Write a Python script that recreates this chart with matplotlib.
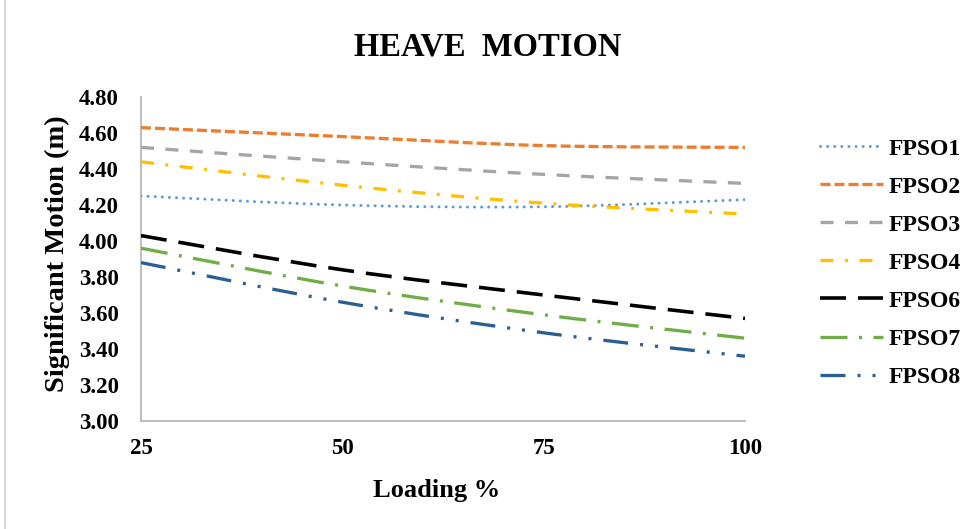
import matplotlib
matplotlib.use("Agg")
import matplotlib.pyplot as plt
from matplotlib.path import Path
from matplotlib.patches import PathPatch
from matplotlib.lines import Line2D
from matplotlib.ticker import FormatStrFormatter

# ---- data -------------------------------------------------------------
loading = [25, 50, 75, 100]
fpso1 = [4.25, 4.20, 4.19, 4.23]
fpso2 = [4.63, 4.58, 4.53, 4.52]
fpso3 = [4.52, 4.44, 4.37, 4.32]
fpso4 = [4.44, 4.31, 4.21, 4.15]
fpso6 = [4.03, 3.84, 3.70, 3.57]
fpso7 = [3.96, 3.75, 3.59, 3.46]
fpso8 = [3.88, 3.66, 3.49, 3.36]
series_names = ["FPSO1", "FPSO2", "FPSO3", "FPSO4", "FPSO6", "FPSO7", "FPSO8"]
series_values = [fpso1, fpso2, fpso3, fpso4, fpso6, fpso7, fpso8]
x_ticks = [25, 50, 75, 100]
y_ticks = [3.00, 3.20, 3.40, 3.60, 3.80, 4.00, 4.20, 4.40, 4.60, 4.80]

# ---- styling ----------------------------------------------------------
DPI = 100
P = 72.0 / DPI  # points per pixel
plt.rcParams["lines.scale_dashes"] = False
plt.rcParams["font.family"] = ["Liberation Serif", "DejaVu Serif"]
plt.rcParams["font.weight"] = "bold"

# (colour, dash pattern in pixels, cap style, width in pixels)
styles = [
    ("#5B9BD5", (0.1, 7.0), "round", 3.0),
    ("#ED7D31", (10.0, 4.0), "butt", 3.3),
    ("#A5A5A5", (13.0, 11.5), "butt", 3.3),
    ("#FFC000", (13.0, 11.5, 3.0, 11.5), "butt", 3.3),
    ("#000000", (26.0, 12.0), "butt", 3.6),
    ("#70AD47", (27.0, 11.5, 3.0, 11.5), "butt", 3.3),
    ("#2B5F92", (25.0, 12.0, 3.0, 12.0, 3.0, 12.0), "butt", 3.3),
]


def smooth_path(xs, ys):
    """Cubic Bezier path through the points (Catmull-Rom style tangents)."""
    pts = list(zip(xs, ys))
    n = len(pts)
    verts = [pts[0]]
    codes = [Path.MOVETO]
    for i in range(n - 1):
        p0 = pts[i - 1] if i > 0 else pts[i]
        p1 = pts[i]
        p2 = pts[i + 1]
        p3 = pts[i + 2] if i + 2 < n else pts[i + 1]
        c1 = (p1[0] + (p2[0] - p0[0]) / 6.0, p1[1] + (p2[1] - p0[1]) / 6.0)
        c2 = (p2[0] - (p3[0] - p1[0]) / 6.0, p2[1] - (p3[1] - p1[1]) / 6.0)
        verts += [c1, c2, p2]
        codes += [Path.CURVE4, Path.CURVE4, Path.CURVE4]
    return Path(verts, codes)


W, H = 965, 529
fig = plt.figure(figsize=(W / DPI, H / DPI), dpi=DPI)
fig.patch.set_facecolor("white")

left, right, top, bottom = 141, 745, 97, 421
ax = fig.add_axes([left / W, 1 - bottom / H, (right - left) / W, (bottom - top) / H])

handles = []
for name, vals, (col, dash_px, cap, lw_px) in zip(series_names, series_values, styles):
    dashes = tuple(d * P for d in dash_px)
    patch = PathPatch(smooth_path(loading, vals), fill=False, edgecolor=col,
                      linewidth=lw_px * P, linestyle=(0, dashes),
                      capstyle=cap, joinstyle="round", zorder=3)
    ax.add_patch(patch)
    handles.append(Line2D([], [], color=col, linewidth=lw_px * P,
                          linestyle=(0, dashes), dash_capstyle=cap,
                          solid_capstyle=cap, label=name))

ax.set_xlim(25, 100)
ax.set_ylim(3.0, 4.8)
ax.set_xticks(x_ticks)
ax.set_yticks(y_ticks)
ax.yaxis.set_major_formatter(FormatStrFormatter("%.2f"))
ax.tick_params(length=0, labelsize=16.5)
ax.tick_params(axis="y", pad=16)
ax.tick_params(axis="x", pad=12)
for lab in ax.get_xticklabels() + ax.get_yticklabels():
    lab.set_fontweight("bold")

for side in ("top", "right"):
    ax.spines[side].set_visible(False)
for side in ("left", "bottom"):
    ax.spines[side].set_color("#BFBFBF")
    ax.spines[side].set_linewidth(1.5)

# titles
fig.text(488 / W, 1 - 47 / H, "HEAVE  MOTION", ha="center", va="center",
         fontsize=23.5, fontweight="bold")
fig.text(437 / W, 1 - 490 / H, "Loading %", ha="center", va="center",
         fontsize=19, fontweight="bold")
fig.text(57 / W, 1 - 254 / H, "Significant Motion (m)", ha="center", va="center",
         rotation=90, fontsize=20.5, fontweight="bold")

# legend
fs_leg = 17
em_px = fs_leg / P
leg = fig.legend(handles=handles, loc="upper left",
                 bbox_to_anchor=(820 / W, 1 - 138 / H),
                 frameon=False, fontsize=fs_leg, borderpad=0, borderaxespad=0,
                 handlelength=63 / em_px, handletextpad=6 / em_px,
                 labelspacing=0.70)
for t in leg.get_texts():
    t.set_fontweight("bold")

# outer chart border
fig.add_artist(Line2D([5 / W, 5 / W], [0, 1], transform=fig.transFigure,
                      color="#D9D9D9", linewidth=1.5))

fig.savefig("out.png", dpi=DPI, facecolor="white")
